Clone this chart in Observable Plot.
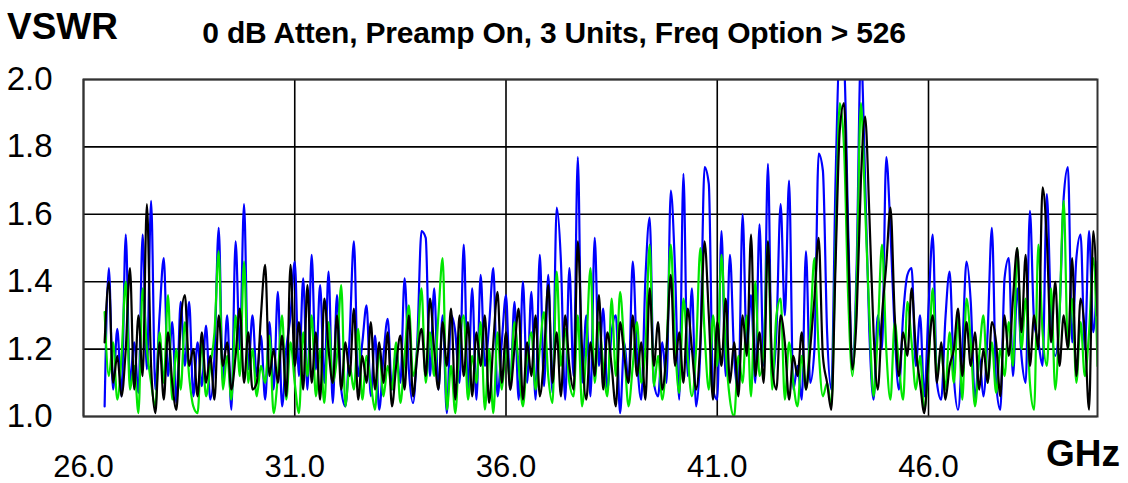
<!DOCTYPE html>
<html><head><meta charset="utf-8">
<script src="https://cdn.jsdelivr.net/npm/d3@7"></script>
<script src="https://cdn.jsdelivr.net/npm/@observablehq/plot@0.6"></script>
<style>
body{margin:0;background:#fff;}
#wrap{position:relative;width:1128px;height:483px;overflow:hidden;font-family:"Liberation Sans",Arial,sans-serif;background:#fff;}
#wrap svg{position:absolute;left:0;top:0;}
.lbl{position:absolute;font-weight:bold;color:#000;white-space:nowrap;line-height:1;z-index:2;}
#vswr{left:7px;top:8px;font-size:37px;}
#ghz{left:1046px;top:435px;font-size:37px;}
#title{left:0;width:1108px;text-align:center;top:18px;font-size:30px;letter-spacing:-0.2px;}
</style></head><body>
<div id="wrap">
<div class="lbl" id="vswr">VSWR</div>
<div class="lbl" id="title">0 dB Atten, Preamp On, 3 Units, Freq Option &gt; 526</div>
<div class="lbl" id="ghz">GHz</div>
</div>
<script>
// Frequency grid (GHz): samples every 0.1 GHz from 26.5 to 50.0
const freqStart = 26.5;
const freqStep = 0.1;

const xTicks = [26, 31, 36, 41, 46];
const yTicks = [1.0, 1.2, 1.4, 1.6, 1.8, 2.0];

// Unit traces, VSWR
const blueVSWR = [
  1.03, 1.44, 1.08, 1.26, 1.06,
  1.54, 1.10, 1.22, 1.07, 1.54, 1.14, 1.64, 1.08, 1.30, 1.47,
  1.12, 1.28, 1.04, 1.34, 1.15, 1.34, 1.06, 1.22, 1.09, 1.27,
  1.05, 1.18, 1.56, 1.10, 1.30, 1.02, 1.52, 1.20, 1.63, 1.14,
  1.30, 1.12, 1.24, 1.05, 1.28, 1.08, 1.37, 1.03, 1.20, 1.30,
  1.46, 1.12, 1.41, 1.08, 1.48, 1.14, 1.39, 1.10, 1.43, 1.04,
  1.36, 1.08, 1.03, 1.24, 1.52, 1.12, 1.22, 1.33, 1.06, 1.24,
  1.02, 1.18, 1.29, 1.08, 1.20, 1.10, 1.41, 1.14, 1.04, 1.22,
  1.55, 1.53, 1.12, 1.38, 1.08, 1.30, 1.01, 1.30, 1.25, 1.10,
  1.51, 1.08, 1.38, 1.05, 1.42, 1.15, 1.27, 1.44, 1.06, 1.22,
  1.36, 1.08, 1.34, 1.05, 1.40, 1.10, 1.37, 1.05, 1.48, 1.09,
  1.42, 1.07, 1.62, 1.46, 1.05, 1.44, 1.12, 1.77, 1.10, 1.30,
  1.06, 1.53, 1.15, 1.32, 1.08, 1.25, 1.30, 1.01, 1.22, 1.10,
  1.46, 1.18, 1.05, 1.41, 1.59, 1.10, 1.06, 1.22, 1.10, 1.67,
  1.44, 1.05, 1.72, 1.12, 1.38, 1.03, 1.20, 1.74, 1.69, 1.08,
  1.05, 1.55, 1.12, 1.48, 1.18, 1.07, 1.60, 1.20, 1.36, 1.10,
  1.57, 1.15, 1.75, 1.10, 1.25, 1.63, 1.30, 1.70, 1.08, 1.15,
  1.05, 1.49, 1.10, 1.20, 1.78, 1.73, 1.25, 1.08, 1.70, 2.08,
  2.05, 1.55, 1.14, 1.45, 2.08, 1.70, 1.25, 1.05, 1.30, 1.20,
  1.77, 1.55, 1.25, 1.08, 1.30, 1.42, 1.44, 1.15, 1.30, 1.06,
  1.32, 1.54, 1.10, 1.05, 1.29, 1.43, 1.12, 1.02, 1.20, 1.46,
  1.34, 1.05, 1.18, 1.06, 1.25, 1.56, 1.10, 1.02, 1.41, 1.47,
  1.12, 1.38, 1.18, 1.10, 1.61, 1.28, 1.22, 1.15, 1.66, 1.30,
  1.18, 1.30, 1.65, 1.74, 1.22, 1.47, 1.54, 1.20, 1.55, 1.25, 1.46
];

const greenVSWR = [
  1.31, 1.12, 1.22, 1.05, 1.18,
  1.40, 1.08, 1.15, 1.01, 1.38, 1.20, 1.10, 1.03, 1.25, 1.10,
  1.36, 1.05, 1.20, 1.08, 1.28, 1.12, 1.03, 1.01, 1.22, 1.06,
  1.15, 1.25, 1.49, 1.08, 1.18, 1.05, 1.30, 1.12, 1.46, 1.10,
  1.20, 1.06, 1.15, 1.10, 1.24, 1.01, 1.12, 1.30, 1.05, 1.22,
  1.10, 1.01, 1.25, 1.12, 1.30, 1.06, 1.20, 1.04, 1.28, 1.10,
  1.18, 1.39, 1.03, 1.15, 1.08, 1.26, 1.05, 1.18, 1.10, 1.02,
  1.20, 1.06, 1.15, 1.08, 1.22, 1.04, 1.18, 1.33, 1.12, 1.20,
  1.38, 1.10, 1.25, 1.12, 1.30, 1.47, 1.02, 1.15, 1.01, 1.22,
  1.30, 1.05, 1.18, 1.10, 1.28, 1.02, 1.20, 1.01, 1.25, 1.08,
  1.20, 1.10, 1.28, 1.15, 1.03, 1.18, 1.25, 1.08, 1.20, 1.31,
  1.12, 1.04, 1.43, 1.15, 1.26, 1.10, 1.06, 1.30, 1.03, 1.20,
  1.44, 1.10, 1.28, 1.15, 1.06, 1.35, 1.12, 1.37, 1.20, 1.03,
  1.15, 1.28, 1.10, 1.20, 1.51, 1.09, 1.18, 1.05, 1.20, 1.51,
  1.22, 1.07, 1.35, 1.18, 1.06, 1.20, 1.50, 1.25, 1.08, 1.30,
  1.15, 1.48, 1.20, 1.05, 1.00, 1.18, 1.10, 1.30, 1.06, 1.40,
  1.12, 1.20, 1.52, 1.08, 1.30, 1.35, 1.05, 1.22, 1.10, 1.03,
  1.18, 1.08, 1.25, 1.47, 1.20, 1.06, 1.10, 1.03, 1.50, 1.93,
  1.80, 1.35, 1.12, 1.40, 1.93, 1.62, 1.30, 1.06, 1.25, 1.51,
  1.20, 1.05, 1.28, 1.15, 1.05, 1.34, 1.22, 1.08, 1.18, 1.02,
  1.15, 1.38, 1.12, 1.20, 1.08, 1.25, 1.10, 1.30, 1.05, 1.35,
  1.22, 1.03, 1.18, 1.30, 1.10, 1.22, 1.07, 1.20, 1.12, 1.28,
  1.15, 1.50, 1.20, 1.35, 1.10, 1.02, 1.51, 1.25, 1.15, 1.38,
  1.08, 1.30, 1.64, 1.20, 1.35, 1.10, 1.28, 1.12, 1.25, 1.47, 1.15
];

const blackVSWR = [
  1.22, 1.40, 1.10, 1.18, 1.06,
  1.20, 1.44, 1.08, 1.30, 1.12, 1.63, 1.15, 1.01, 1.22, 1.05,
  1.25, 1.10, 1.02, 1.28, 1.36, 1.15, 1.20, 1.06, 1.25, 1.10,
  1.18, 1.05, 1.30, 1.15, 1.22, 1.08, 1.18, 1.32, 1.10, 1.25,
  1.08, 1.10, 1.30, 1.45, 1.12, 1.20, 1.10, 1.24, 1.06, 1.45,
  1.15, 1.28, 1.08, 1.39, 1.10, 1.25, 1.05, 1.35, 1.20, 1.10,
  1.30, 1.08, 1.22, 1.12, 1.32, 1.05, 1.18, 1.10, 1.28, 1.08,
  1.22, 1.10, 1.25, 1.03, 1.15, 1.24, 1.08, 1.30, 1.06, 1.18,
  1.26, 1.12, 1.35, 1.20, 1.08, 1.28, 1.15, 1.32, 1.05, 1.30,
  1.12, 1.28, 1.06, 1.25, 1.15, 1.30, 1.04, 1.22, 1.37, 1.10,
  1.25, 1.08, 1.20, 1.32, 1.05, 1.22, 1.12, 1.30, 1.06, 1.18,
  1.39, 1.10, 1.25, 1.06, 1.30, 1.15, 1.08, 1.52, 1.20, 1.05,
  1.22, 1.12, 1.36, 1.08, 1.25, 1.15, 1.03, 1.28, 1.18, 1.10,
  1.30, 1.12, 1.22, 1.05, 1.38, 1.15, 1.28, 1.08, 1.20, 1.42,
  1.15, 1.25, 1.10, 1.32, 1.20, 1.08, 1.22, 1.52, 1.30, 1.05,
  1.28, 1.15, 1.35, 1.10, 1.22, 1.06, 1.30, 1.18, 1.54, 1.12,
  1.25, 1.10, 1.52, 1.15, 1.08, 1.30, 1.22, 1.05, 1.18, 1.12,
  1.25, 1.08, 1.20, 1.35, 1.53, 1.18, 1.10, 1.02, 1.45, 1.85,
  1.93, 1.50, 1.14, 1.30, 1.70, 1.89, 1.60, 1.25, 1.08, 1.30,
  1.45, 1.62, 1.30, 1.12, 1.25, 1.18, 1.38, 1.20, 1.10, 1.01,
  1.18, 1.30, 1.10, 1.22, 1.05, 1.15, 1.20, 1.32, 1.12, 1.28,
  1.15, 1.25, 1.08, 1.20, 1.10, 1.28, 1.22, 1.06, 1.30, 1.18,
  1.35, 1.50, 1.25, 1.48, 1.15, 1.30, 1.20, 1.68, 1.53, 1.22,
  1.40, 1.15, 1.30, 1.20, 1.47, 1.12, 1.35, 1.25, 1.02, 1.55, 1.30
];

const seriesNames = ["Unit B", "Unit G", "Unit K"];
const seriesColors = ["#0000ff", "#00e600", "#000000"];

function toRows(values, name) {
  return values.map((v, i) => ({freq: +(freqStart + i * freqStep).toFixed(2), vswr: v, unit: name}));
}
const blueRows = toRows(blueVSWR, seriesNames[0]);
const greenRows = toRows(greenVSWR, seriesNames[1]);
const blackRows = toRows(blackVSWR, seriesNames[2]);

const lineOpts = {x: "freq", y: "vswr", strokeWidth: 2.2, curve: "monotone-x", clip: true};

const chart = Plot.plot({
  width: 1128,
  height: 483,
  marginTop: 79,
  marginLeft: 83,
  marginRight: 31,
  marginBottom: 67,
  style: {fontFamily: "'Liberation Sans', Arial, sans-serif", background: "transparent", color: "#000"},
  x: {domain: [26, 50]},
  y: {domain: [1, 2]},
  marks: [
    Plot.gridX(xTicks, {stroke: "#000", strokeOpacity: 1, strokeWidth: 1.6}),
    Plot.gridY(yTicks, {stroke: "#000", strokeOpacity: 1, strokeWidth: 1.6}),
    Plot.line(blueRows, {...lineOpts, stroke: seriesColors[0]}),
    Plot.line(greenRows, {...lineOpts, stroke: seriesColors[1]}),
    Plot.line(blackRows, {...lineOpts, stroke: seriesColors[2]}),
    Plot.frame({stroke: "#333", strokeWidth: 2}),
    Plot.axisY(yTicks, {tickFormat: d3.format(".1f"), tickSize: 0, tickPadding: 31, fontSize: 33, label: null}),
    Plot.axisX(xTicks, {tickFormat: d3.format(".1f"), tickSize: 0, tickPadding: 38, fontSize: 31, label: null})
  ]
});
document.getElementById("wrap").appendChild(chart);
</script>
</body></html>
